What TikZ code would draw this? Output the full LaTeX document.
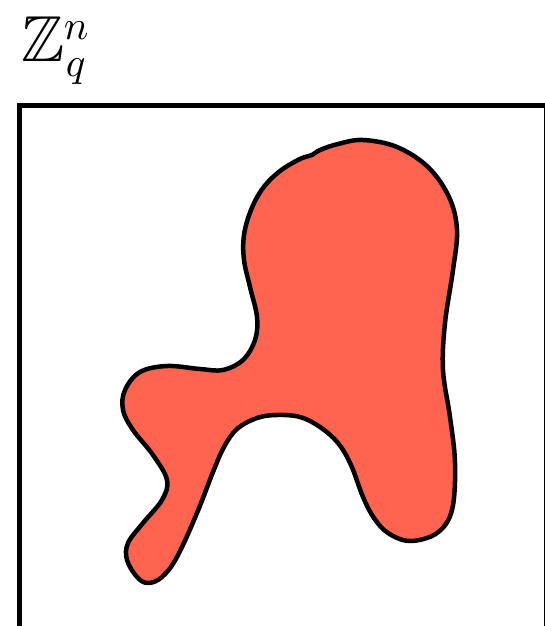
\documentclass[tikz,border=0pt]{standalone}
\usepackage{amsmath,amssymb}
\definecolor{blobred}{RGB}{255,100,80}
\begin{document}
\begin{tikzpicture}[x=1pt,y=-1pt,
  frame/.style={draw=black,line width=5pt},
  lbl/.style={anchor=base west,inner sep=0pt},
  blob/.style={draw=black,line width=4.5pt,fill=blobred,line join=round}]
\useasboundingbox (0,0) rectangle (545,626);
\clip (0,0) rectangle (545,626);
\draw[frame] (19.8,105.5) rectangle (546.5,700);
\node[lbl,scale=6.5] (zz) at (20,62) {$\mathbb{Z}$};
\node[lbl,scale=4.1] (nn) at (63,40) {$n$};
\node[lbl,scale=4.1] (qq) at (65,77) {$q$};
\draw[blob] plot[smooth cycle,tension=0.6] coordinates {
 (363,140) (338,144) (320,150) (312,155) (300,159) (280,171) (263,188) (251,210) (244,235) (244,260)
 (250,287) (257,317) (255,340) (243,360) (223,370) (200,369) (167,366)
 (140,372) (125,390) (123,410) (133,430) (153,455) (167,480) (162,500)
 (143,523) (128,543) (127,560) (137,577) (148,583) (162,577) (177,557)
 (197,513) (213,472) (224,447) (237,429) (257,418) (277,415) (300,417) (320,427)
 (338,443) (351,465) (363,497) (374,518) (388,533) (410,541) (437,533) (452,510)
 (455,463) (450,417) (443,370)
 (445,323) (453,270) (457,230) (449,197) (428,167) (397,147)};
\end{tikzpicture}
\end{document}
